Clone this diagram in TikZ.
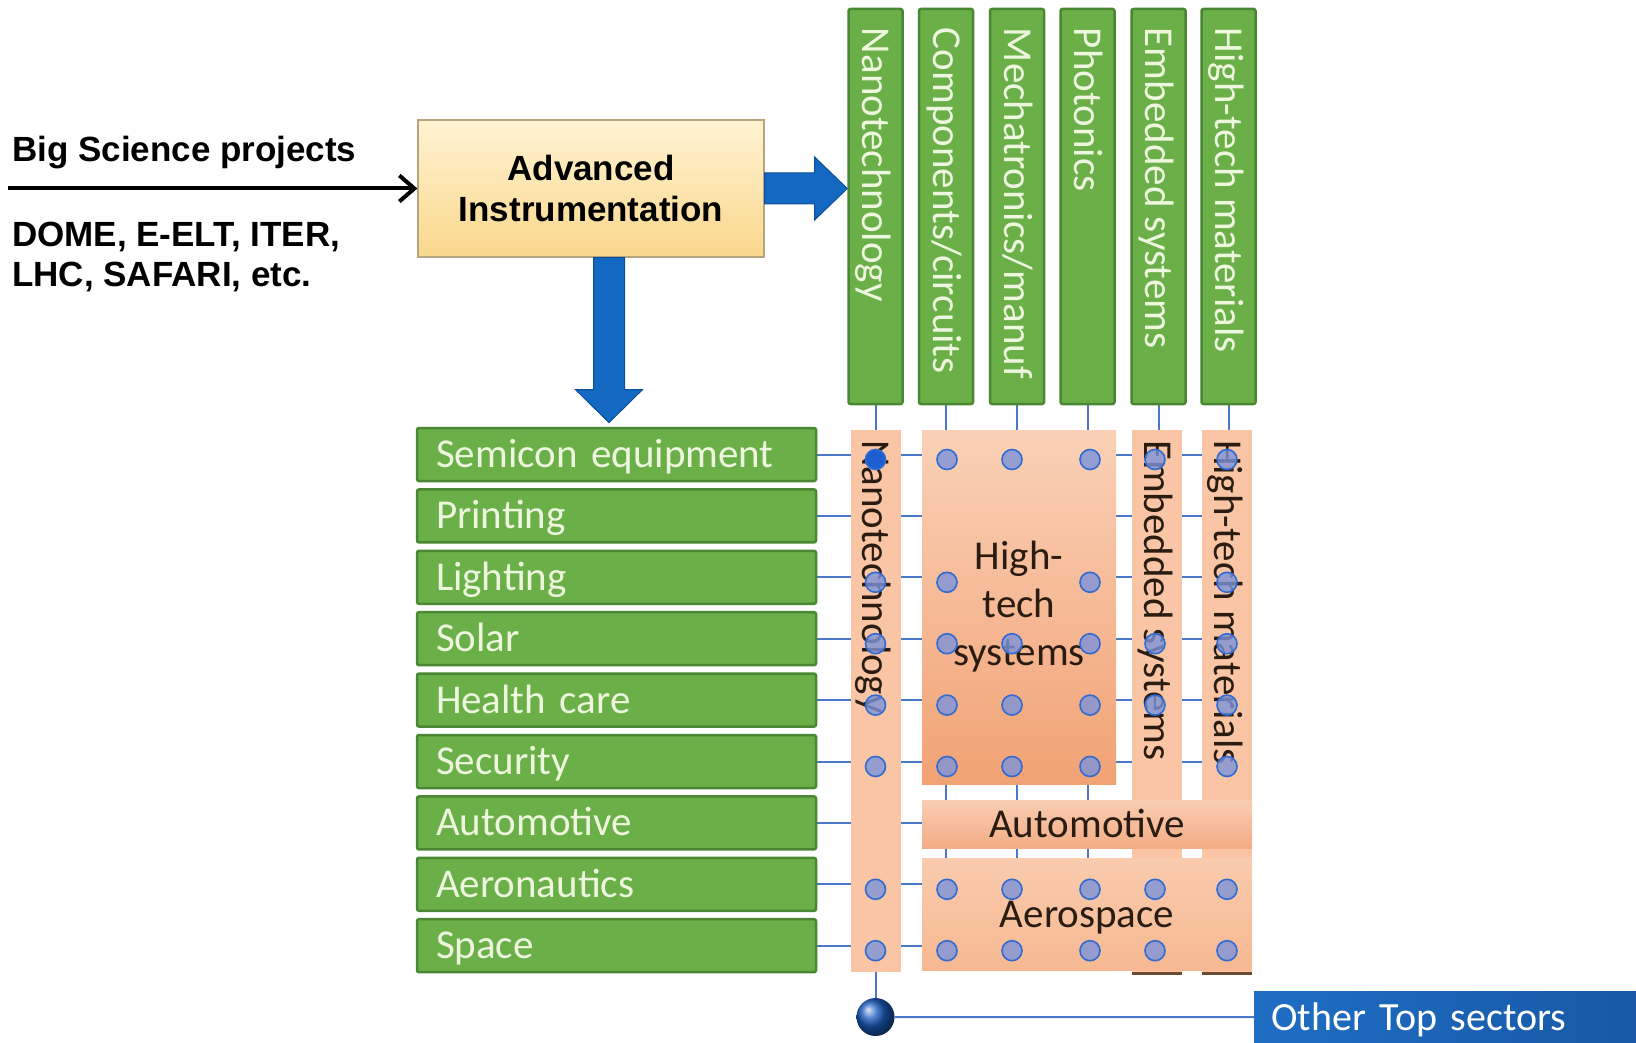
\documentclass[tikz,border=0pt]{standalone}
\usepackage{fontspec}
\setmainfont{Carlito}
\newfontfamily\arialfont{Liberation Sans}
\usetikzlibrary{arrows.meta,calc,shadings}
\definecolor{gfill}{HTML}{6AAF48}
\definecolor{gdraw}{HTML}{4A8733}
\definecolor{gtext}{HTML}{EEF6DE}
\definecolor{ofill}{HTML}{F9C5A4}
\definecolor{otop}{HTML}{FAD1B7}
\definecolor{obot}{HTML}{F1A274}
\definecolor{autotop}{HTML}{F9CDB3}
\definecolor{autobot}{HTML}{F3AC84}
\definecolor{aerotop}{HTML}{F9CBAE}
\definecolor{aerobot}{HTML}{F6B992}
\definecolor{otext}{HTML}{2A1C12}
\definecolor{lineblue}{HTML}{4A78C8}
\definecolor{dotfill}{HTML}{7D93DA}
\definecolor{dotdraw}{HTML}{2F6BD2}
\definecolor{dotsolid}{HTML}{1D5FD0}
\definecolor{arrowblue}{HTML}{1369C2}
\definecolor{arrowdraw}{HTML}{0D4F96}
\definecolor{advtop}{HTML}{FEF3D2}
\definecolor{advbot}{HTML}{FAD78C}
\definecolor{advdraw}{HTML}{B8A57E}
\definecolor{otherL}{HTML}{1E6EC4}
\definecolor{otherR}{HTML}{1858A6}
\definecolor{darkbrown}{HTML}{6E4A33}
\definecolor{ballblue}{HTML}{1A5DBE}
\pgfdeclarelayer{background}
\pgfsetlayers{background,main}
\begin{document}
\begin{tikzpicture}[x=1pt,y=-1pt,
  calib/.style={font=\fontsize{41}{48}\selectfont},
  ariab/.style={font=\arialfont\bfseries\fontsize{35}{41}\selectfont},
  gbox/.style={draw=gdraw, line width=2.5pt, fill=gfill, rounded corners=2pt},
  rowbox/.style={gbox, calib, text=gtext, minimum width=399pt, minimum height=53pt,
    text width=361pt, inner xsep=19pt, inner ysep=0pt, align=left, text height=26pt, text depth=0pt},
  topbox/.style={gbox, minimum width=54pt, minimum height=395pt, inner sep=0pt},
  vtext/.style={calib, rotate=-90, anchor=west, inner sep=0pt, text height=26pt, text depth=0pt},
  gtxt/.style={vtext, text=gtext},
  otxt/.style={vtext, text=otext},
  ocol/.style={fill=ofill, minimum width=50pt, minimum height=542pt, inner sep=0pt},
  oblock/.style={calib, text=otext, inner sep=0pt},
  gridline/.style={draw=lineblue, line width=2pt},
  dot/.style={circle, minimum size=20pt, inner sep=0pt, draw=dotdraw, line width=1.6pt, fill=dotfill, fill opacity=0.8},
  bluearrow/.style={fill=arrowblue, draw=arrowdraw, line width=1pt},
]
\useasboundingbox (0,0) rectangle (1636,1043);

% left texts
\node[ariab, anchor=base west, inner sep=0pt] (bsp) at (12,162) {Big Science projects};
\node[ariab, anchor=base west, inner sep=0pt] (prj1) at (12,247) {DOME, E-ELT, ITER,};
\node[ariab, anchor=base west, inner sep=0pt] (prj2) at (12,287) {LHC, SAFARI, etc.};

% advanced instrumentation
\node[draw=advdraw, line width=1.2pt, top color=advtop, bottom color=advbot,
  minimum width=346pt, minimum height=137pt, ariab, align=center] (adv) at (591,188.5)
  {Advanced\\Instrumentation};
\coordinate (src) at (8,188.5);
\draw[line width=4pt, -{Straight Barb[length=15pt,width=26pt,line width=4pt]}] (src) -- (adv.west);

% top green boxes
\node[topbox] (t1) at (875.5,206.5) {};
\node[topbox] (t2) at (946,206.5) {};
\node[topbox] (t3) at (1017,206.5) {};
\node[topbox] (t4) at (1087.5,206.5) {};
\node[topbox] (t5) at (1158.5,206.5) {};
\node[topbox] (t6) at (1228.5,206.5) {};
\node[gtxt] (t1l) at ($(t1.north)+(0,20)$) {Nanotechnology};
\node[gtxt] (t2l) at ($(t2.north)+(0,20)$) {Components/circuits};
\node[gtxt] (t3l) at ($(t3.north)+(0,20)$) {Mechatronics/manuf};
\node[gtxt] (t4l) at ($(t4.north)+(0,20)$) {Photonics};
\node[gtxt] (t5l) at ($(t5.north)+(0,20)$) {Embedded systems};
\node[gtxt] (t6l) at ($(t6.north)+(0,20)$) {High-tech materials};

% left green row boxes
\node[rowbox] (r0) at (616.5,454.5) {Semicon equipment};
\node[rowbox] (r1) at (616.5,515.9) {Printing};
\node[rowbox] (r2) at (616.5,577.3) {Lighting};
\node[rowbox] (r3) at (616.5,638.7) {Solar};
\node[rowbox] (r4) at (616.5,700.1) {Health care};
\node[rowbox] (r5) at (616.5,761.5) {Security};
\node[rowbox] (r6) at (616.5,822.9) {Automotive};
\node[rowbox] (r7) at (616.5,884.3) {Aeronautics};
\node[rowbox] (r8) at (616.5,945.7) {Space};

% ball and other sectors
\node[circle, minimum size=38pt, inner sep=0pt, shading=ball, ball color=ballblue] (ball) at (875.5,1017) {};
\node[anchor=north west, minimum width=382pt, minimum height=52pt, left color=otherL, right color=otherR,
  font=\fontsize{40}{48}\selectfont, text=white, text width=348pt, inner xsep=17pt, inner ysep=0pt,
  align=left, text height=26pt, text depth=0pt] (other) at (1254,991) {Other Top sectors};

% grid lines (behind)
\begin{pgfonlayer}{background}
  \fill[white] (0,0) rectangle (1636,1043);
  \foreach \i in {0,...,8} {\draw[gridline] (r\i.east) -- (r\i.east -| t6);}
  \foreach \j in {2,...,6} {\draw[gridline] (t\j.south) -- (t\j.south |- r8);}
  \draw[gridline] (t1.south) -- (ball);
  \draw[gridline] (ball) -- (other.west);
\end{pgfonlayer}

% orange blocks
\node[ocol] (o-nano) at (875.5,701) {};
\node[ocol] (o-emb) at (1157,701) {};
\node[ocol] (o-mat) at (1227,701) {};
\draw[line width=3pt, draw=darkbrown] ($(o-emb.south west)+(0,1)$) -- ($(o-emb.south east)+(0,1)$);
\draw[line width=3pt, draw=darkbrown] ($(o-mat.south west)+(0,1)$) -- ($(o-mat.south east)+(0,1)$);
\node[otxt] (o-nanol) at ($(o-nano.north)+(0,10)$) {Nanotechnology};
\node[otxt] (o-embl) at ($(o-emb.north)+(0,10)$) {Embedded systems};
\node[otxt] (o-matl) at ($(o-mat.north)+(0,10)$) {High-tech materials};
\node[oblock, top color=otop, bottom color=obot, minimum width=194pt, minimum height=354pt, align=center]
  (o-hts) at (1019,607) {High-\\tech\\systems};
\node[oblock, top color=autotop, bottom color=autobot, minimum width=330pt, minimum height=48pt,
  text height=26pt, text depth=0pt] (o-auto) at (1087,824) {Automotive};
\node[oblock, top color=aerotop, bottom color=aerobot, minimum width=330pt, minimum height=112pt,
  text height=26pt, text depth=0pt] (o-aero) at (1087,914) {Aerospace};

% dots (slightly offset from the grid crossings, as in the original)
\node[dot, fill=dotsolid, fill opacity=1] (d01) at ($(t1 |- r0)+(0,5)$) {};
\foreach \i/\cols in {0/{2,3,4,5,6}, 2/{1,2,4,6}, 3/{1,2,3,4,5,6}, 4/{1,2,3,4,5,6},
                      5/{1,2,3,4,6}, 7/{1,2,3,4,5,6}, 8/{1,2,3,4,5,6}} {
  \foreach \j in \cols {
    \pgfmathsetmacro{\dx}{{0,0,1,-5,2.5,-3.5,-1.5}[\j]}
    \node[dot] (d\i\j) at ($(t\j |- r\i)+(\dx,5)$) {};
  }
}

% blue block arrows
\draw[bluearrow] ($(adv.east)+(0,-15.5)$) -- ($(adv.east)+(50,-15.5)$) -- ($(adv.east)+(50,-31.5)$)
  -- (t1.west |- adv.east) -- ($(adv.east)+(50,31.5)$) -- ($(adv.east)+(50,15.5)$)
  -- ($(adv.east)+(0,15.5)$) -- cycle;
\coordinate (da) at ($(adv.south)+(18,0)$);
\draw[bluearrow] ($(da)+(-15.5,0)$) -- ($(da)+(-15.5,132)$) -- ($(da)+(-33.5,132)$) -- ($(da)+(0,165)$)
  -- ($(da)+(33.5,132)$) -- ($(da)+(15.5,132)$) -- ($(da)+(15.5,0)$) -- cycle;
\end{tikzpicture}
\end{document}
